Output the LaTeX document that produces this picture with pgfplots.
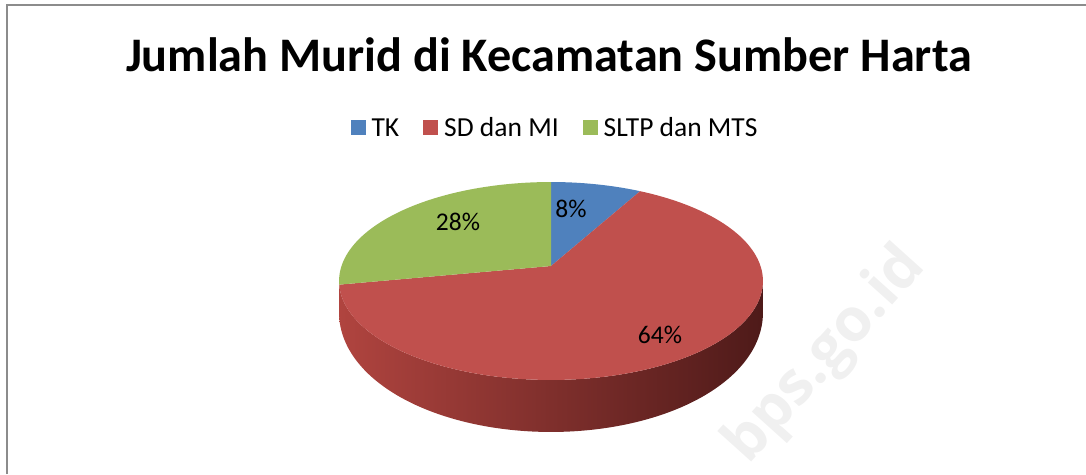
\documentclass[border=0pt]{standalone}
\usepackage{pgfplots}
\pgfplotsset{compat=1.18}
\usepackage{pgfplotstable}
\usepackage{fontspec}
\setmainfont{Carlito}
\newfontfamily\wmfont{Open Sans}
\definecolor{tk}{HTML}{4F81BD}
\definecolor{sd}{HTML}{C0504D}
\definecolor{sl}{HTML}{9BBB59}
\definecolor{sdL}{HTML}{B0443F}
\definecolor{sdM}{HTML}{8A2F2D}
\definecolor{sdR}{HTML}{4E1A19}
\definecolor{frame}{HTML}{8C8C8C}

\pgfplotstableread{
cat val
TK 8
SD 64
SLTP 28
}\datatable
\pgfplotstablegetelem{0}{val}\of\datatable \let\vA\pgfplotsretval
\pgfplotstablegetelem{1}{val}\of\datatable \let\vB\pgfplotsretval
\pgfplotstablegetelem{2}{val}\of\datatable \let\vC\pgfplotsretval
\pgfmathsetmacro\aA{90}
\pgfmathsetmacro\aB{\aA-3.6*\vA}
\pgfmathsetmacro\aC{\aB-3.6*\vB}
\pgfmathsetmacro\aD{\aC-3.6*\vC}

\tikzset{
  declare function={
    px(\t)=551+209.5*cos(\t)/(1+0.1515*sin(\t));
    py(\t)=-266+96.7*sin(\t)/(1+0.1515*sin(\t));
    dep(\t)=28+24*max(0,-sin(\t));
    th(\s)=ifthenelse(\s<=1,188.7+162.6*\s,351.3-162.6*(\s-1));
  }
}

\begin{document}
\begin{tikzpicture}
\useasboundingbox (0,0) rectangle (1086pt,474pt);
\begin{axis}[
  at={(0,0)}, anchor=south west,
  width=1086pt, height=474pt, scale only axis,
  xmin=0, xmax=1086, ymin=-474, ymax=0,
  hide axis, clip=false,
  legend style={at={(axis cs:555,-128)}, anchor=center, draw=none, fill=none,
    font=\fontsize{27.5}{32}\selectfont,
    /tikz/every even column/.append style={column sep=22pt},
    /tikz/every odd column/.append style={column sep=0pt}},
  legend columns=-1,
  legend image code/.code={\fill[#1] (0pt,-7.5pt) rectangle (15pt,7.5pt); \path (19pt,0pt);},
]
% watermark
\node[rotate=48, text=black!6, font=\wmfont\bfseries\fontsize{60}{66}\selectfont]
  at (axis cs:826,-356) {bps.go.id};
% frame
\draw[frame, line width=2pt] (axis cs:7,-474) -- (axis cs:7,-5) -- (axis cs:1086,-5);
% side of the pie
\addplot[forget plot, draw=none, left color=sdL, middle color=sdM, right color=sdR,
  domain=0:2, samples=301, variable=\s]
  ({px(th(\s))},{py(th(\s))-(\s>1)*dep(th(\s))}) -- cycle;
% slices
\addplot[draw=none, fill=tk, domain=\aB:\aA, samples=40, variable=\t]
  ({px(\t)},{py(\t)}) -- (axis cs:551,-266) -- cycle;
\addlegendentry{TK}
\addplot[draw=none, fill=sd, domain=\aC:\aB, samples=160, variable=\t]
  ({px(\t)},{py(\t)}) -- (axis cs:551,-266) -- cycle;
\addlegendentry{SD dan MI}
\addplot[draw=none, fill=sl, domain=\aD:\aC, samples=80, variable=\t]
  ({px(\t)},{py(\t)}) -- (axis cs:551,-266) -- cycle;
\addlegendentry{SLTP dan MTS}
% labels
\node[anchor=base, font=\fontsize{25.5}{30}\selectfont] at (axis cs:571,-218) {8\%};
\node[anchor=base, font=\fontsize{25.5}{30}\selectfont] at (axis cs:458,-231) {28\%};
\node[anchor=base, font=\fontsize{25.5}{30}\selectfont] at (axis cs:660,-343) {64\%};
% title
\node[anchor=base, font=\bfseries\fontsize{48.2}{54}\selectfont] at (axis cs:549,-72)
  {Jumlah Murid di Kecamatan Sumber Harta};
\end{axis}
\end{tikzpicture}
\end{document}
